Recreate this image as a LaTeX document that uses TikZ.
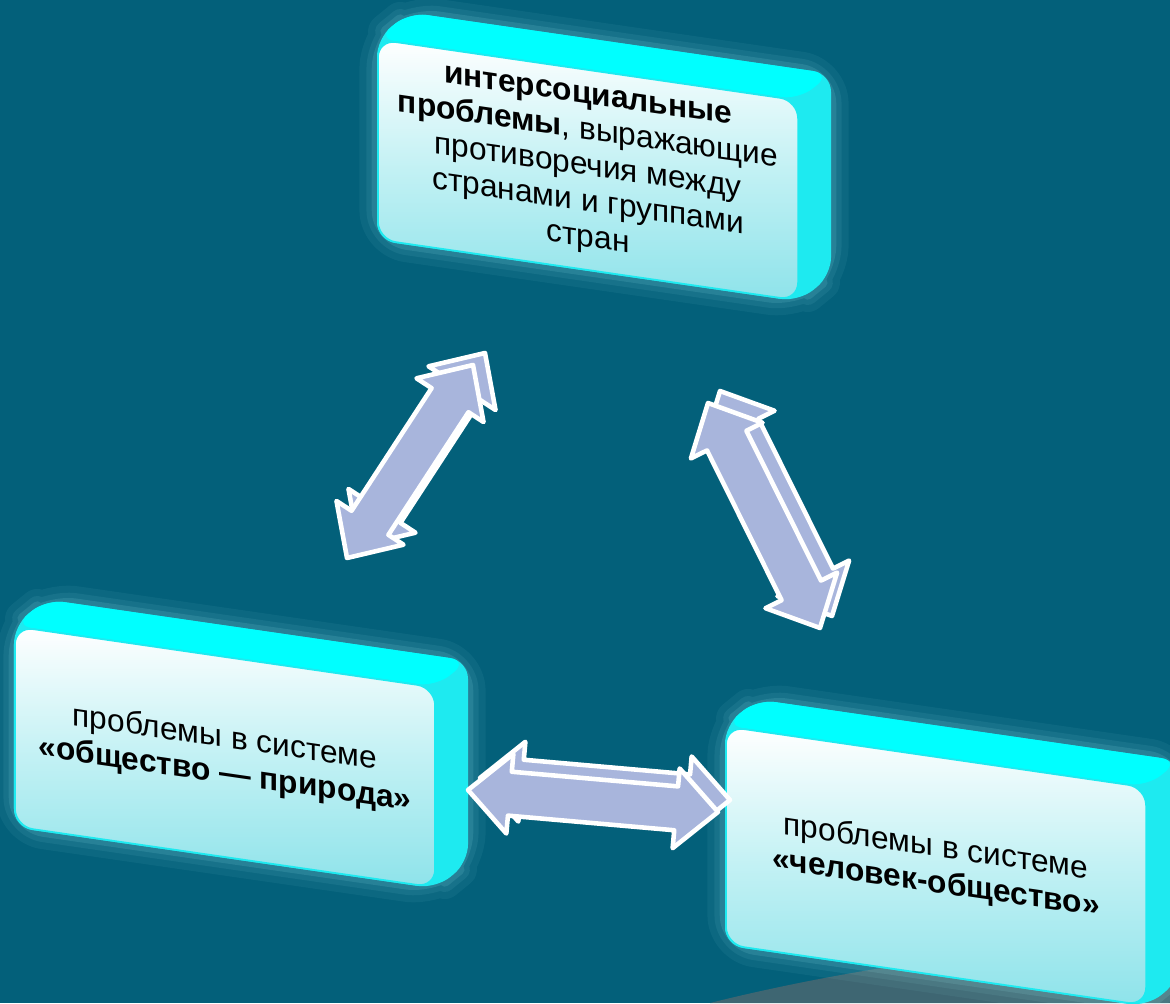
\documentclass[tikz,border=0pt]{standalone}
\usepackage{fontspec}
\setmainfont{Liberation Sans}
\usepackage{tikz}
\usetikzlibrary{calc}
\definecolor{bg}{HTML}{03607A}
\definecolor{floor}{HTML}{3E6672}
\definecolor{facemid}{HTML}{C2F1F4}
\definecolor{facebot}{HTML}{8EE3EA}
\definecolor{sidecyan}{HTML}{1EEAF0}
\definecolor{topcyan}{HTML}{00FFFF}
\definecolor{halo}{HTML}{9FEFF5}
\definecolor{lilac}{HTML}{A8B5DC}
\pgfdeclarelayer{background}
\pgfsetlayers{background,main}
\tikzset{
  box/.style={rectangle, rounded corners=0.18cm, minimum width=4.2cm, minimum height=2cm,
    yslant=-0.145, align=center, inner sep=2pt,
    top color=white, bottom color=facebot, middle color=facemid,
    draw=sidecyan, line width=0.5pt, text=black,
    font=\fontsize{9}{10.2}\selectfont},
  slabside/.style={fill=sidecyan, rounded corners=0.18cm},
  slablid/.style={fill=topcyan, rounded corners=0.18cm},
  glow/.style={draw=halo, rounded corners=0.3cm, line join=round},
  blockarr/.style={fill=lilac, draw=white, line width=1.3pt, line join=round}
}
\newcommand{\ahead}{0.42cm}
\newcommand{\ashaft}{0.22cm}
\newcommand{\awing}{0.40cm}
% extruded sides of a box, behind the front face
\newcommand{\slab}[1]{%
  \foreach \lw/\op in {10/0.06,6/0.08,3/0.12}
    \draw[glow, line width=\lw pt, opacity=\op] (#1.south west) -- (#1.south east)
      -- ([shift={(32,26)}]#1.south east) -- ([shift={(32,26)}]#1.north east)
      -- ([shift={(32,26)}]#1.north west) -- (#1.north west) -- cycle;
  \fill[slabside] (#1.south west) -- (#1.south east)
    -- ([shift={(32,26)}]#1.south east) -- ([shift={(32,26)}]#1.north east)
    -- ([shift={(32,26)}]#1.north west) -- (#1.north west) -- cycle;
  \fill[slablid] (#1.north west) -- ([shift={(32,26)}]#1.north west)
    -- ([shift={(32,26)}]#1.north east) -- (#1.north east) -- cycle;
}
% two-headed block arrow, back copy first
\newcommand{\dblarrow}[2]{%
  \foreach \ox/\oy in {12/12,0/0}
    \draw[blockarr] let \p1=($(#2)-(#1)$), \n1={atan2(\y1,\x1)} in
      ($(#1)+(\ox,\oy)$)
      -- ($(#1)+(\ox,\oy)+(\n1:\ahead)+(\n1+90:\awing)$)
      -- ($(#1)+(\ox,\oy)+(\n1:\ahead)+(\n1+90:\ashaft)$)
      -- ($(#2)+(\ox,\oy)+(\n1+180:\ahead)+(\n1+90:\ashaft)$)
      -- ($(#2)+(\ox,\oy)+(\n1+180:\ahead)+(\n1+90:\awing)$)
      -- ($(#2)+(\ox,\oy)$)
      -- ($(#2)+(\ox,\oy)+(\n1+180:\ahead)+(\n1-90:\awing)$)
      -- ($(#2)+(\ox,\oy)+(\n1+180:\ahead)+(\n1-90:\ashaft)$)
      -- ($(#1)+(\ox,\oy)+(\n1:\ahead)+(\n1-90:\ashaft)$)
      -- ($(#1)+(\ox,\oy)+(\n1:\ahead)+(\n1-90:\awing)$)
      -- cycle;
}

\begin{document}
\begin{tikzpicture}[x=0.01cm, y=0.01cm]
  \useasboundingbox (0,0) rectangle (1170,1003);

  \node[box] (intersoc) at (588,833)
    {\textbf{интерсоциальные}\\ \textbf{проблемы}, выражающие\\ противоречия между\\ странами и группами\\ стран};
  \node[box] (natsoc) at (225,246)
    {проблемы в системе\\ \textbf{«общество — природа»}};
  \node[box, minimum height=2.18cm] (mansoc) at (936,137)
    {проблемы в системе\\ \textbf{«человек-общество»}};

  \coordinate (n-low) at (347,445);
  \coordinate (n-up) at (473,638);
  \coordinate (e-up) at (708,600);
  \coordinate (e-low) at (820,375);
  \coordinate (s-left) at (468,213);
  \coordinate (s-right) at (718,191);

  \dblarrow{n-low}{n-up}
  \dblarrow{e-up}{e-low}
  \dblarrow{s-left}{s-right}

  \begin{pgfonlayer}{background}
    \fill[bg] (0,0) rectangle (1170,1003);
    \fill[floor] (710,0) .. controls (850,35) and (1000,55) .. (1170,68) -- (1170,0) -- cycle;
    \foreach \b in {intersoc,natsoc,mansoc}{\slab{\b}}
  \end{pgfonlayer}
\end{tikzpicture}
\end{document}
